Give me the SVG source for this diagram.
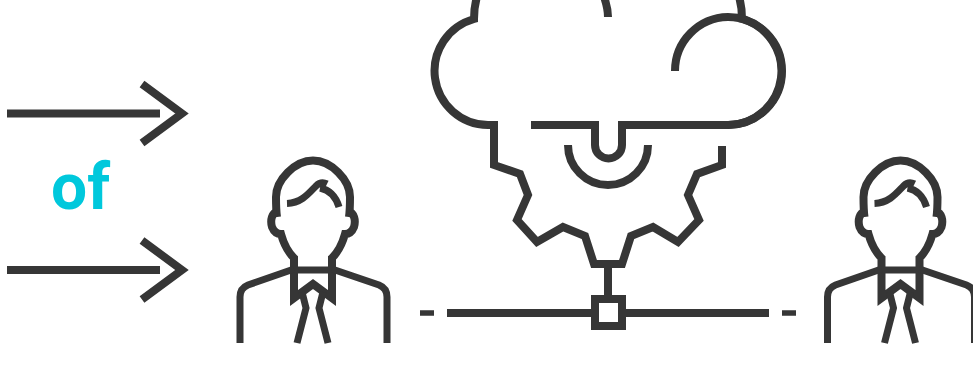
<svg xmlns="http://www.w3.org/2000/svg" width="973" height="391" viewBox="0 0 973 391">
<style>
.s{fill:none;stroke:#363636;stroke-width:8;stroke-miterlimit:10}
.d{stroke-width:5.500}
.n{stroke-width:7}
.t{font-family:Roboto,"Liberation Sans",sans-serif;font-weight:700;font-size:64px;fill:#00c8dc}
</style>
<defs>
<g id="person">
<path class="s" d="M277 217C276 210 276 204 276 197C276 180 295 160.500 313 160.500C331 160.500 350 180 350 197C350 204 350 210 349 217"/>
<path class="s" d="M277 212C272 213 270 220 272 227C274 232 277 234 281 234C284 245 288 252 294 258V298L313 284L332 298V258C338 252 342 245 345 234C349 234 352 232 354 227C356 220 354 213 349 212"/>
<path class="n s" d="M294 270H332"/>
<path class="n s" d="M294 269L248 285C243 287 240 291 240 297V343"/>
<path class="n s" d="M332 269L379 285C384 287 387 291 387 297V343"/>
<path class="n s" d="M302 292L306 308L297 343"/>
<path class="n s" d="M323 292L319 308L328 343"/>
<path class="n s" d="M287 203.500C302 203 310 192 316 186C320 182 323 182 327 184M320 188C330 190 336 197 339 207"/>
</g>
</defs>
<g id="connectors">
<path class="s" d="M7 113.500H160M142 84L182 113.500L142 143"/>
<path class="s" d="M7 270H160M142 240.500L182 270L142 299.500"/>
<path class="s" d="M608 264V296"/>
<path class="s" d="M447 313H595M622 313H769"/>
<path class="s d" d="M420 313H434M782 313H796"/>
</g>
<g id="label"><text class="t" x="51" y="209">of</text></g>
<g id="person-left"><use href="#person"/></g>
<g id="cloud-gear">
<path class="s" d="M478 -6C475 2 474 10 474 19A54 54 0 0 0 488 125H494V165L520 174L528 195L517 220L537 242L563 227L585 236L594 264H622L631 236L653 227L678 242L699 220L688 195L697 174L722 165V146"/>
<path class="s" d="M531 125H595V145A13 13 0 0 0 622 145V125H728A54 54 0 0 0 742 19C742 10 741 2 738 -6"/>
<path class="s" d="M728 125A54 54 0 0 0 728 17A54 54 0 0 0 675 71"/>
<path class="s" d="M603 -6C606 2 608 9 608 17"/>
<path class="s" d="M568 145A40 40 0 0 0 648 145"/>
</g>
<g id="hub"><rect class="s" x="595" y="299" width="27" height="27"/></g>
<g id="person-right"><use href="#person" x="587.500"/></g>
</svg>
